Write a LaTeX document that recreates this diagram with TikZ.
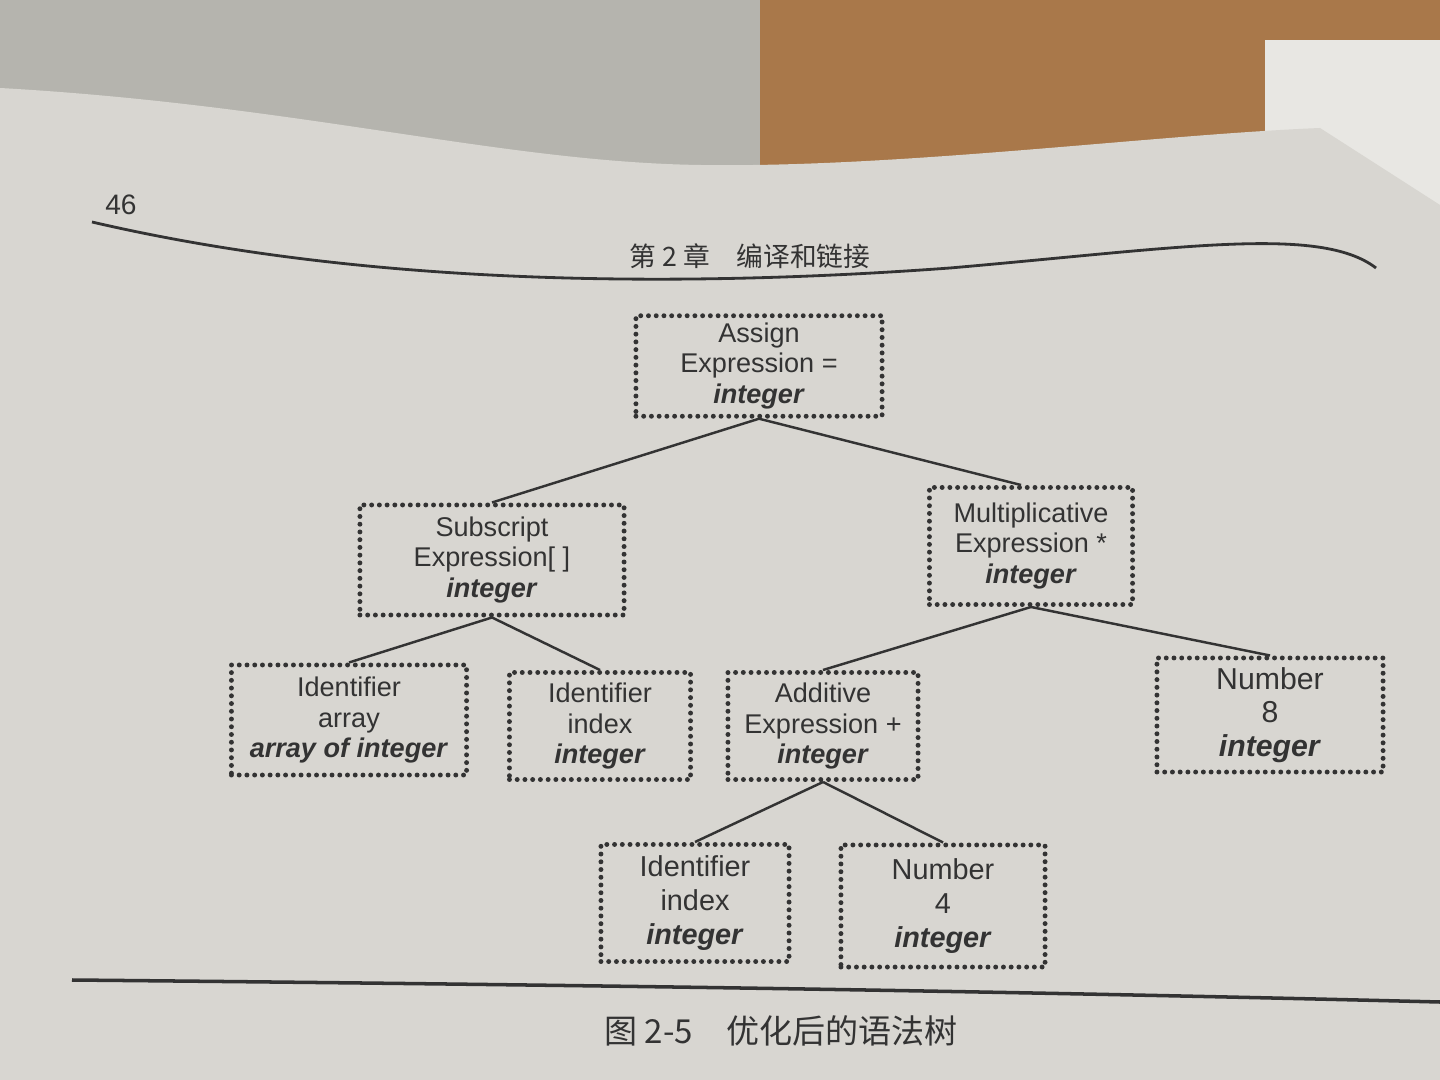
\documentclass[tikz,border=0pt]{standalone}
\usepackage{fontspec}
\setmainfont{Liberation Sans}
\newfontfamily\cjk{Noto Sans CJK SC}
\definecolor{paper}{HTML}{D8D6D1}
\definecolor{ink}{HTML}{333333}
\definecolor{wood}{HTML}{A9784A}
\definecolor{floor}{HTML}{B5B4AE}
\tikzset{
  treenode/.style={draw=ink, line width=1.4pt, dash pattern=on 0pt off 2.2pt,
    line cap=round, align=center, text=ink, inner sep=2pt,
    font=\fontsize{7.7}{8.7}\selectfont},
  branch/.style={draw=ink, line width=0.7pt},
}
\newcommand{\ty}[1]{\textbf{\textit{#1}}}
\begin{document}
\begin{tikzpicture}[x=0.01cm, y=-0.01cm]
\useasboundingbox (0,0) rectangle (1440,1080);
% background above the page
\fill[floor] (0,0) rectangle (1440,1080);
\fill[wood] (760,0) -- (1440,0) -- (1440,200) -- (1300,200) -- (760,200) -- cycle;
\fill[paper!60!white] (1265,40) rectangle (1440,220);
% the page
\fill[paper] (0,88) .. controls (300,105) and (500,162) .. (700,165)
  .. controls (900,168) and (1150,135) .. (1320,128)
  -- (1440,205) -- (1440,1080) -- (0,1080) -- cycle;

% page header
\node[text=ink, font=\fontsize{8}{9}\selectfont] (pagenum) at (121,205) {46};
\node[text=ink, font=\cjk\fontsize{7.6}{9}\selectfont] (chapter) at (750,256) {第 2 章\quad 编译和链接};
\draw[ink, line width=0.8pt] (92,222) .. controls (350,282) and (650,290) .. (950,268)
  .. controls (1180,248) and (1320,225) .. (1376,268);

% tree nodes
\node[treenode, minimum width=2.46cm, minimum height=0.92cm] (assign) at (759,366)
  {Assign\\Expression =\\\ty{integer}};
\node[treenode, minimum width=2.64cm, minimum height=1.10cm] (sub) at (492,560)
  {Subscript\\Expression[ ]\\\ty{integer}};
\node[treenode, minimum width=2.03cm, minimum height=1.17cm] (mult) at (1031,546)
  {Multiplicative\\Expression *\\\ty{integer}};
\node[treenode, minimum width=2.35cm, minimum height=1.10cm] (arr) at (349,720)
  {Identifier\\array\\\ty{array of integer}};
\node[treenode, minimum width=1.81cm, minimum height=1.07cm] (idx) at (600,726)
  {Identifier\\index\\\ty{integer}};
\node[treenode, minimum width=1.90cm, minimum height=1.07cm] (add) at (823,726)
  {Additive\\Expression +\\\ty{integer}};
\node[treenode, minimum width=2.26cm, minimum height=1.14cm,
  font=\fontsize{8.6}{9.6}\selectfont] (eight) at (1270,715)
  {Number\\8\\\ty{integer}};
\node[treenode, minimum width=1.88cm, minimum height=1.17cm,
  font=\fontsize{8.2}{9.6}\selectfont] (idxb) at (695,903)
  {Identifier\\index\\\ty{integer}};
\node[treenode, minimum width=2.04cm, minimum height=1.22cm,
  font=\fontsize{8.2}{9.6}\selectfont] (four) at (943,906)
  {Number\\4\\\ty{integer}};

% branches
\draw[branch] (assign.south) -- (sub.north);
\draw[branch] (assign.south) -- ([xshift=-0.1cm]mult.north);
\draw[branch] (sub.south) -- (arr.north);
\draw[branch] (sub.south) -- (idx.north);
\draw[branch] (mult.south) -- (add.north);
\draw[branch] (mult.south) -- (eight.north);
\draw[branch] (add.south) -- (idxb.north);
\draw[branch] (add.south) -- (four.north);

% caption
\draw[ink, line width=1pt] (72,980) .. controls (600,985) and (1000,991) .. (1440,1002);
\node[text=ink, font=\cjk\fontsize{9.4}{11}\selectfont] (caption) at (781,1031) {图 2-5\quad 优化后的语法树};
\end{tikzpicture}
\end{document}
